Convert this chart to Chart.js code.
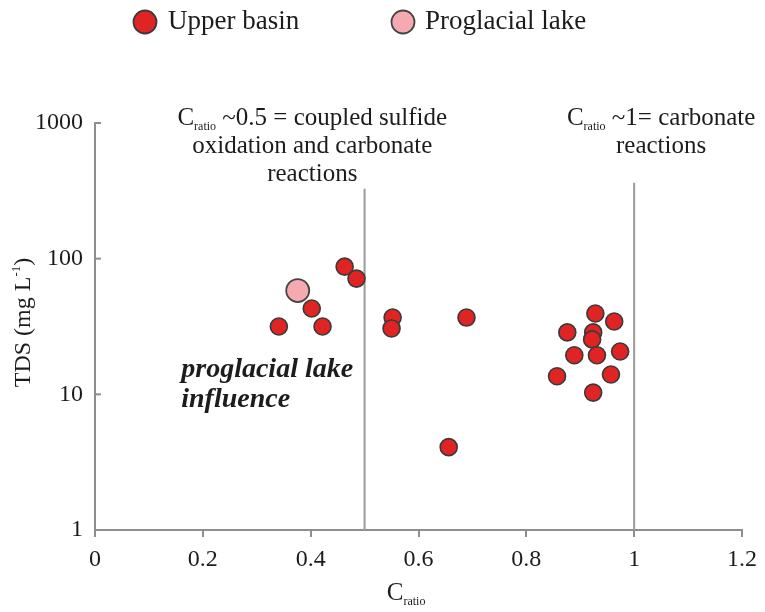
<!DOCTYPE html>
<html>
<head>
<meta charset="utf-8">
<script src="https://cdn.jsdelivr.net/npm/chart.js@4.4.1/dist/chart.umd.min.js"></script>
<style>
  html, body { margin: 0; padding: 0; background: #fff; }
  #chart { display: block; }
</style>
</head>
<body>
<canvas id="chart" width="765" height="612"></canvas>
<script>
// ----- DATA -----

// upper basin samples: C ratio vs TDS (mg/L)
const upperC = [0.341, 0.402, 0.422, 0.463, 0.485, 0.552, 0.550, 0.689, 0.656,
  0.928, 0.963, 0.876, 0.924, 0.922, 0.889, 0.931, 0.974, 0.857, 0.957, 0.924];
const upperTDS = [31.6, 42.9, 31.6, 87.3, 71.3, 36.8, 30.6, 36.8, 4.08,
  39.4, 34.4, 28.6, 28.6, 25.4, 19.4, 19.4, 20.7, 13.6, 14.0, 10.3];

// proglacial lake sample
const lakeC = [0.376];
const lakeTDS = [58.2];

// reference lines at C ratio 0.5 and 1
const refLineC = [0.5, 1.0];
const refLineTop = [327, 362];

const xTicks = [0, 0.2, 0.4, 0.6, 0.8, 1, 1.2];
const xTickLabels = ["0", "0.2", "0.4", "0.6", "0.8", "1", "1.2"];
const yTicks = [1, 10, 100, 1000];
const yTickLabels = ["1", "10", "100", "1000"];

const seriesNames = ["Upper basin", "Proglacial lake"];

const FONT = "'Liberation Serif', 'Times New Roman', serif";
const INK = "#1c1c1c";
const AXIS = "#8e8e8e";

// ----- HELPERS -----

function toPoints(xs, ys) {
  return xs.map((x, i) => ({ x: x, y: ys[i] }));
}

// draws "C" + subscript "ratio" + rest, centred on cx, baseline at y
function drawRatioText(ctx, cx, y, rest, size) {
  const big = size + "px " + FONT;
  const small = Math.round(size * 0.48) + "px " + FONT;
  ctx.font = big;
  const wC = ctx.measureText("C").width;
  const wRest = ctx.measureText(rest).width;
  ctx.font = small;
  const wSub = ctx.measureText("ratio").width;
  let x = cx - (wC + wSub + wRest) / 2;
  ctx.textAlign = "left";
  ctx.textBaseline = "alphabetic";
  ctx.font = big;
  ctx.fillText("C", x, y);
  x += wC;
  ctx.font = small;
  ctx.fillText("ratio", x, y + size * 0.2);
  x += wSub;
  ctx.font = big;
  ctx.fillText(rest, x, y);
}

// ----- ANNOTATIONS / LEGEND / AXIS TITLES -----

const extrasPlugin = {
  id: "extras",
  afterDraw(chart) {
    const ctx = chart.ctx;
    const xs = chart.scales.x;
    const ys = chart.scales.y;
    ctx.save();

    // inward tick marks on the log axis
    ctx.strokeStyle = AXIS;
    ctx.lineWidth = 2;
    yTicks.forEach((v) => {
      const py = ys.getPixelForValue(v);
      ctx.beginPath();
      ctx.moveTo(xs.left, py);
      ctx.lineTo(xs.left + 6, py);
      ctx.stroke();
    });

    ctx.fillStyle = INK;

    // notes above the reference lines
    const c1 = xs.getPixelForValue(0.403);
    drawRatioText(ctx, c1, 125, " ~0.5 = coupled sulfide", 25);
    ctx.font = "25px " + FONT;
    ctx.textAlign = "center";
    ctx.fillText("oxidation and carbonate", c1, 153);
    ctx.fillText("reactions", c1, 181);

    const c2 = xs.getPixelForValue(1.05);
    drawRatioText(ctx, c2, 125, " ~1= carbonate", 25);
    ctx.font = "25px " + FONT;
    ctx.textAlign = "center";
    ctx.fillText("reactions", c2, 153);

    // proglacial lake note
    ctx.font = "italic bold 28px " + FONT;
    ctx.textAlign = "left";
    ctx.fillText("proglacial lake", xs.getPixelForValue(0.16), 377);
    ctx.fillText("influence", xs.getPixelForValue(0.16), 407);

    // x title
    drawRatioText(ctx, xs.getPixelForValue(0.577), 600, "", 25);

    // y title
    ctx.save();
    ctx.translate(30, (ys.top + ys.bottom) / 2 - 4);
    ctx.rotate(-Math.PI / 2);
    ctx.font = "24px " + FONT;
    const main = "TDS (mg L";
    const wMain = ctx.measureText(main).width;
    ctx.font = "13px " + FONT;
    const wSup = ctx.measureText("-1").width;
    ctx.font = "24px " + FONT;
    const wEnd = ctx.measureText(")").width;
    let tx = -(wMain + wSup + wEnd) / 2;
    ctx.textAlign = "left";
    ctx.fillText(main, tx, 0);
    tx += wMain;
    ctx.font = "13px " + FONT;
    ctx.fillText("-1", tx, -10);
    tx += wSup;
    ctx.font = "24px " + FONT;
    ctx.fillText(")", tx, 0);
    ctx.restore();

    // legend
    const items = [
      { ds: chart.data.datasets[0], cx: 145, tx: 168 },
      { ds: chart.data.datasets[1], cx: 403, tx: 425 },
    ];
    items.forEach((it) => {
      ctx.beginPath();
      ctx.arc(it.cx, 22, 11.5, 0, Math.PI * 2);
      ctx.fillStyle = it.ds.backgroundColor;
      ctx.fill();
      ctx.lineWidth = 1.8;
      ctx.strokeStyle = it.ds.borderColor;
      ctx.stroke();
      ctx.fillStyle = INK;
      ctx.font = "27px " + FONT;
      ctx.textAlign = "left";
      ctx.textBaseline = "middle";
      ctx.fillText(it.ds.label, it.tx, 22);
    });

    ctx.restore();
  },
};

// ----- CHART -----

const refLineSets = refLineC.map((c, i) => ({
  type: "line",
  label: "ref" + i,
  data: [{ x: c, y: 1 }, { x: c, y: refLineTop[i] }],
  borderColor: "#9a9a9a",
  borderWidth: 2,
  pointRadius: 0,
  showLine: true,
  order: 3,
}));

const ctx = document.getElementById("chart").getContext("2d");

new Chart(ctx, {
  type: "scatter",
  data: {
    datasets: [
      {
        label: seriesNames[0],
        data: toPoints(upperC, upperTDS),
        backgroundColor: "#e02424",
        borderColor: "#3a3a3a",
        borderWidth: 1.6,
        pointRadius: 8.5,
        order: 2,
      },
      {
        label: seriesNames[1],
        data: toPoints(lakeC, lakeTDS),
        backgroundColor: "#f4aab0",
        borderColor: "#444444",
        borderWidth: 1.8,
        pointRadius: 11.5,
        order: 1,
      },
      ...refLineSets,
    ],
  },
  options: {
    responsive: false,
    animation: false,
    layout: { padding: { top: 123, right: 22, left: 0, bottom: 0 } },
    plugins: {
      legend: { display: false },
      tooltip: { enabled: false },
    },
    scales: {
      x: {
        type: "linear",
        min: 0,
        max: 1.2,
        afterBuildTicks: (scale) => {
          scale.ticks = xTicks.map((v) => ({ value: v }));
        },
        afterFit: (scale) => {
          scale.height = 82;
        },
        ticks: {
          callback: (v) => xTickLabels[xTicks.indexOf(v)] ?? "",
          font: { family: FONT, size: 24 },
          color: INK,
          padding: 8,
          maxRotation: 0,
        },
        grid: {
          drawOnChartArea: false,
          drawTicks: true,
          tickLength: 7,
          color: AXIS,
          lineWidth: 2,
        },
        border: { color: AXIS, width: 2 },
      },
      y: {
        type: "logarithmic",
        min: 1,
        max: 1000,
        afterBuildTicks: (scale) => {
          scale.ticks = yTicks.map((v) => ({ value: v }));
        },
        afterFit: (scale) => {
          scale.width = 95;
        },
        ticks: {
          callback: (v) => yTickLabels[yTicks.indexOf(v)] ?? "",
          font: { family: FONT, size: 24 },
          color: INK,
          padding: 4,
        },
        grid: { display: false },
        border: { color: AXIS, width: 2 },
      },
    },
  },
  plugins: [extrasPlugin],
});
</script>
</body>
</html>
